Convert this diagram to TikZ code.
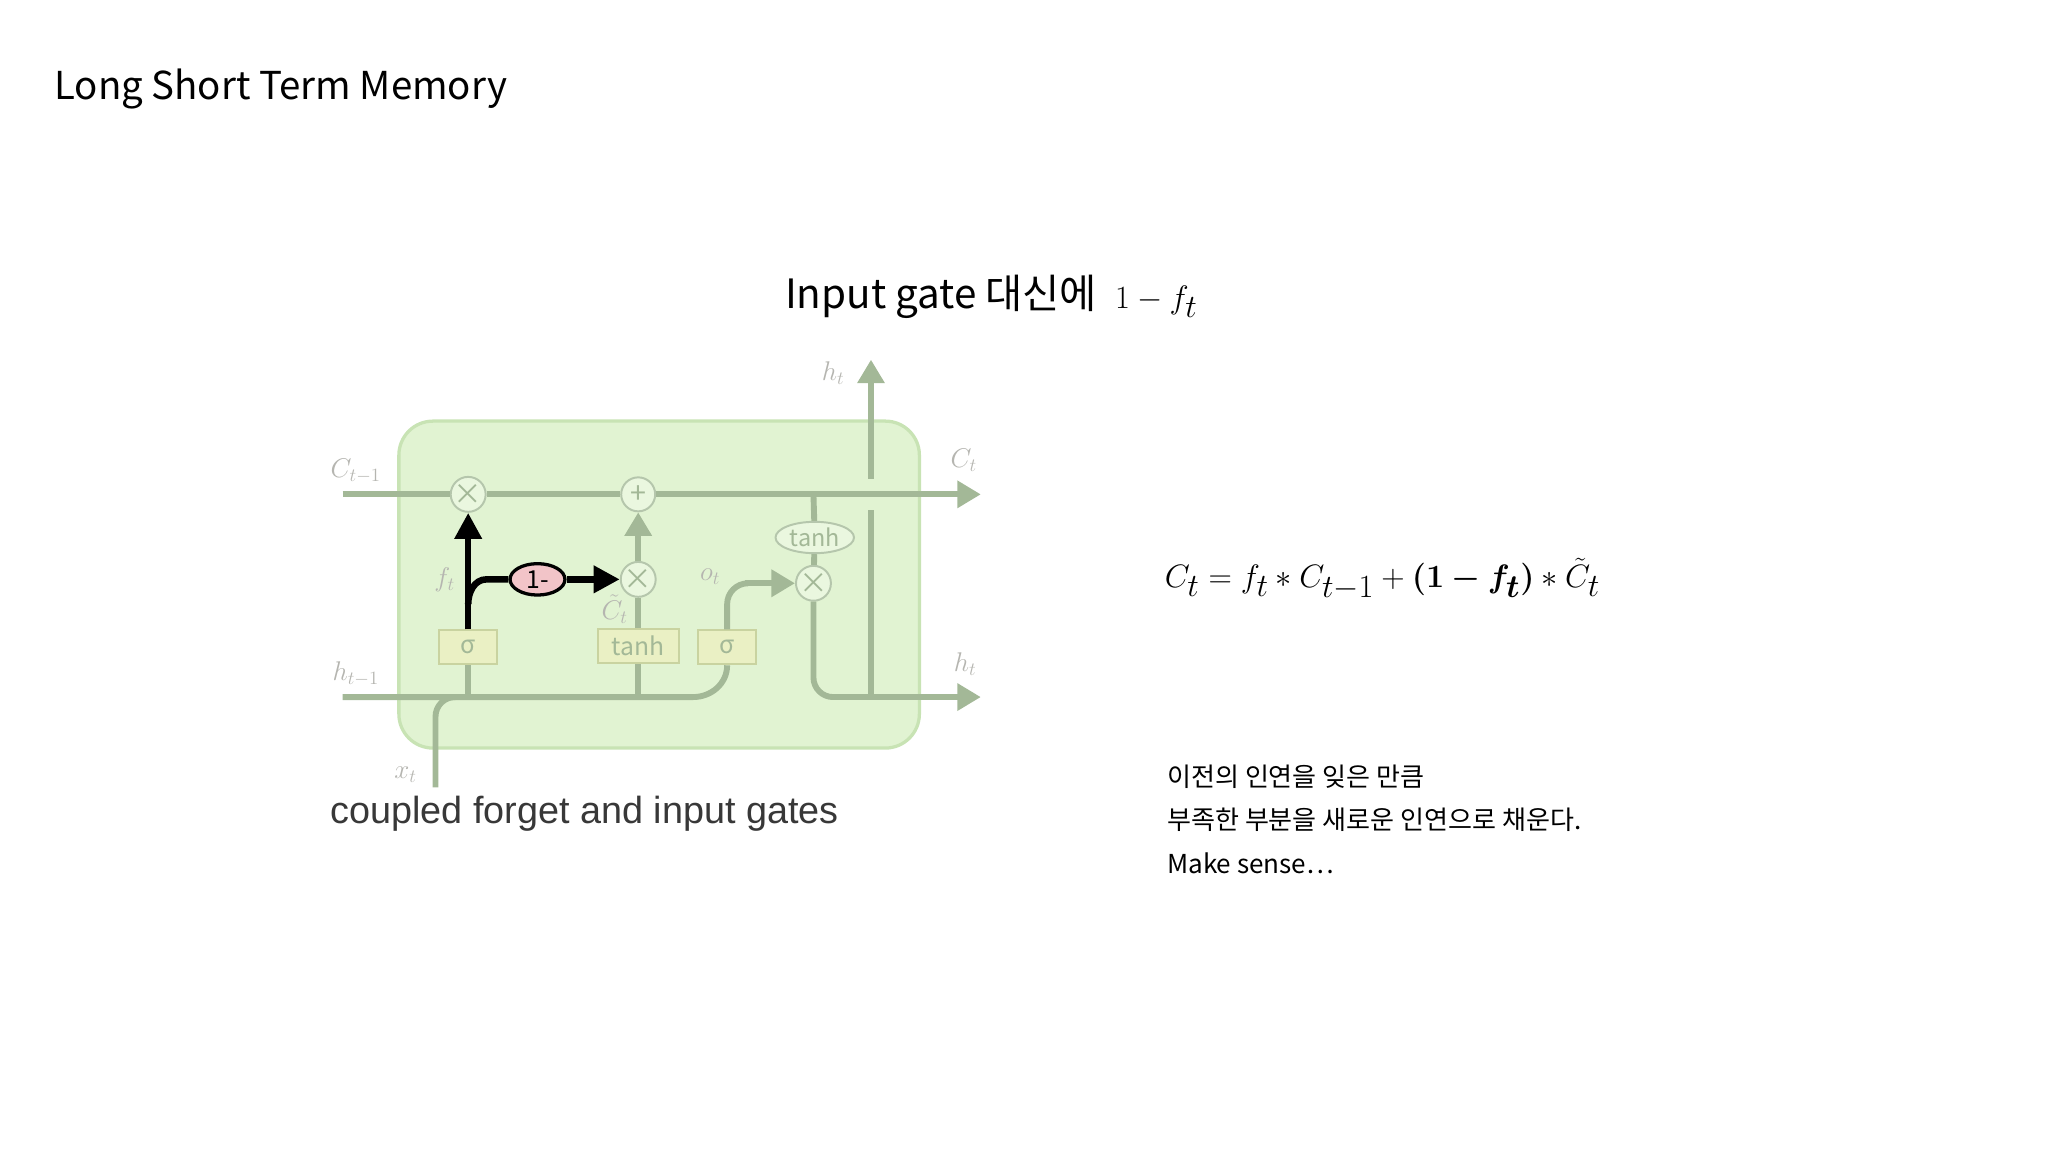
\documentclass[tikz,border=0pt]{standalone}
\usepackage{amsmath,bm}
\usepackage{fontspec}
\setmainfont{Noto Sans CJK KR}
\newfontfamily\arial{Liberation Sans}
\usetikzlibrary{arrows.meta,shapes.geometric}
\definecolor{gl}{HTML}{A3B897}
\definecolor{gfill}{HTML}{E1F3D2}
\definecolor{gbord}{HTML}{C8E3B4}
\definecolor{lab}{HTML}{B5B5B0}
\definecolor{boxf}{HTML}{EAF0C4}
\definecolor{boxd}{HTML}{C9D3A0}
\definecolor{pink}{HTML}{F2C4C8}
\tikzset{
 gline/.style={draw=gl,line width=4.5bp},
 garr/.style={gline,-{Triangle[length=18bp,width=20bp]}},
 barr/.style={draw=black,line width=5bp,-{Triangle[length=20bp,width=20bp]}},
 op/.style={circle,draw=gl!80,line width=1.5bp,fill=gfill!70!white,minimum size=26bp,inner sep=0pt,text=gl,font=\fontsize{22}{22}\selectfont},
 gatebox/.style={rectangle,draw=boxd,line width=1.5bp,fill=boxf,text=gl,inner sep=0pt,minimum height=26bp,font=\fontsize{19}{19}\selectfont},
 lbl/.style={text=lab,font=\fontsize{20}{20}\selectfont},
}
\begin{document}
\begin{tikzpicture}[x=1bp,y=-1bp]
\useasboundingbox (0,0) rectangle (1566,881);
\node[anchor=west,font=\fontsize{29.5}{34}\selectfont] (title) at (38,68) {Long Short Term Memory};
\node[font=\fontsize{31}{36}\selectfont] (sub) at (758,227) {Input gate 대신에 \ {\fontsize{38}{40}\selectfont$1-f_t$}};
% cell
\node[draw=gbord,line width=2.5bp,fill=gfill,rounded corners=26bp,minimum width=398bp,minimum height=250bp] (cell) at (504,447) {};
\coordinate (cin) at (262,378); \coordinate (cout) at (750,378);
\coordinate (hin) at (262,533); \coordinate (hout) at (750,533);
\coordinate (xin) at (333,602); \coordinate (htop) at (666,275);
\node[op] (m1) at (358,378) {×};
\node[op] (p1) at (488,378) {+};
\node[op] (m2) at (488,443) {×};
\node[op] (m3) at (622,446) {×};
\node[ellipse,draw=gl!80,line width=1.5bp,fill=gfill!70!white,minimum width=60bp,minimum height=24bp,inner sep=0pt,text=gl,font=\fontsize{18}{18}\selectfont] (th) at (623,411) {tanh};
\node[gatebox,minimum width=44bp] (s1) at (358,495) {σ};
\node[gatebox,minimum width=62bp] (t1) at (488,494) {tanh};
\node[gatebox,minimum width=44bp] (s2) at (556,495) {σ};
\node[ellipse,draw=black,line width=2.5bp,fill=pink,minimum width=42bp,minimum height=24bp,inner sep=0pt,font=\fontsize{19}{19}\selectfont] (om) at (411,443) {1-};
% green lines
\draw[gline] (cin) -- (m1) -- (p1);
\draw[garr] (p1) -- (cout);
\draw[gline] (hin) -- (530,533) to[out=0,in=-90] (s2.south);
\draw[gline] (xin) -- (333,548) to[out=90,in=180] (348,533);
\draw[gline] (s1.south) -- (358,533);
\draw[gline] (t1.south) -- (488,533);
\draw[gline] (t1.north) -- (m2);
\draw[garr] (m2) -- (p1);
\draw[gline] (s2.north) -- (556,462) to[out=90,in=180] (572,446);
\draw[garr] (570,446) -- (m3);
\draw[gline] (622,378) -- (th);
\draw[gline] (th) -- (m3);
\draw[gline] (m3) -- (622,518) to[out=-90,in=180] (637,533);
\draw[garr] (636,533) -- (hout);
\draw[gline] (666,533) -- (666,390);
\draw[garr] (666,366) -- (htop);
% black
\draw[barr] (s1.north) -- (m1);
\draw[draw=black,line width=5bp] (358,462) to[out=90,in=180] (372,443) -- (om);
\draw[barr] (om) -- (m2);
% labels
\node[lbl] (lc1) at (272,360) {$C_{t-1}$};
\node[lbl] (lc2) at (737,352) {$C_t$};
\node[lbl] (lh1) at (272,515) {$h_{t-1}$};
\node[lbl] (lh2) at (738,508) {$h_t$};
\node[lbl] (lh3) at (637,285) {$h_t$};
\node[lbl] (lx) at (310,592) {$x_t$};
\node[lbl] (lf) at (340,443) {$f_t$};
\node[lbl] (lo) at (543,441) {$o_t$};
\node[lbl] (lct) at (470,466) {$\tilde{C}_t$};
\node[anchor=west,text=black!78,font=\arial\fontsize{29}{32}\selectfont] (cap) at (249,622) {coupled forget and input gates};
% equation
\node[font=\fontsize{46}{50}\selectfont] (eq) at (1057,443) {$C_t = f_t * C_{t-1} + \bm{(1 - f_t)} * \tilde{C}_t$};
\node[anchor=west,font=\fontsize{20}{22}\selectfont] (k1) at (889,594) {이전의 인연을 잊은 만큼};
\node[anchor=west,font=\fontsize{20}{22}\selectfont] (k2) at (889,627) {부족한 부분을 새로운 인연으로 채운다.};
\node[anchor=west,font=\fontsize{20}{22}\selectfont] (k3) at (889,660) {Make sense…};
\end{tikzpicture}
\end{document}
